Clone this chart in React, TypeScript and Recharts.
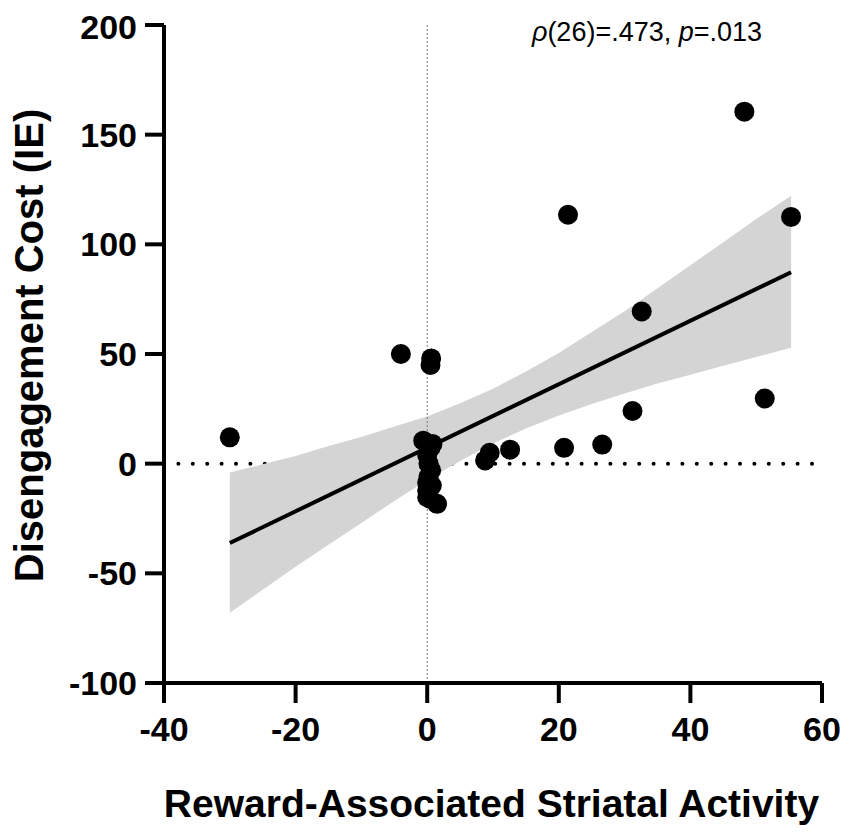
import { ComposedChart, Scatter, Line, Area, XAxis, YAxis, ReferenceLine } from 'recharts'

// striatal activity (x) and disengagement cost (y) for each participant
const activity = [
  -30, -4, 0.6, 0.5, -0.6, 0.5, 0.2, 0, 0, 0, 1.5, 0.8, 0, 0.6, 0.2, 0.7, 0.4,
  8.8, 9.5, 12.6, 21.4, 20.8, 26.6, 31.2, 32.6, 48.2, 51.3, 55.3,
]
const cost = [
  12, 50, 48, 45, 10.5, 7.3, 0, -8.7, -12.4, -15.3, -18.3, 9, 4, -3, -6, -10, -16,
  1.5, 5, 6.4, 113.5, 7.2, 8.7, 24, 69.4, 160.5, 29.7, 112.5,
]

// regression line end points
const fitX = [-30, 55.3]
const fitY = [-36.2, 87.3]

// 95% confidence band
const bandX = [-30, -25, -20, -15, -10, -5, 0, 5, 10, 15, 20, 25, 30, 35, 40, 45, 50, 55.3]
const bandLow = [-68, -57.5, -47, -37, -27, -17, -7.5, 1.2, 9.2, 16, 22, 27.2, 32, 36.5, 40.5, 44.7, 48.6, 52.8]
const bandHigh = [-4, -0.3, 3.5, 8, 12.2, 16.9, 21.5, 27.6, 34.2, 42, 50.5, 60, 69.5, 80, 90.5, 101, 111.5, 122.2]

// dotted zero line across the plot
const zeroX = [-40, 60]
const zeroY = [0, 0]

const xTicks = [-40, -20, 0, 20, 40, 60]
const yTicks = [-100, -50, 0, 50, 100, 150, 200]

const points = activity.map((x, i) => ({ x, y: cost[i] }))
const fit = fitX.map((x, i) => ({ x, y: fitY[i] }))
const band = bandX.map((x, i) => ({ x, band: [bandLow[i], bandHigh[i]] }))
const zero = zeroX.map((x, i) => ({ x, y: zeroY[i] }))

const font = '"Liberation Sans", Arial, sans-serif'
const tickStyle = { fontSize: 34, fontWeight: 'bold', fill: '#000', fontFamily: font }

const Dot = (props: any) => <circle cx={props.cx} cy={props.cy} r={10} fill="#000" />

export default function App() {
  return (
    <ComposedChart width={835} height={824} margin={{ top: 17, right: 21, bottom: 0, left: 0 }}>
      <XAxis
        type="number"
        dataKey="x"
        domain={[-40, 60]}
        ticks={xTicks}
        height={149}
        axisLine={{ stroke: '#000', strokeWidth: 4 }}
        tickLine={{ stroke: '#000', strokeWidth: 4 }}
        tickSize={20}
        tickMargin={14}
        tick={tickStyle}
        allowDataOverflow
      />
      <YAxis
        type="number"
        dataKey="y"
        domain={[-100, 200]}
        ticks={yTicks}
        width={156}
        axisLine={{ stroke: '#000', strokeWidth: 4 }}
        tickLine={{ stroke: '#000', strokeWidth: 4 }}
        tickSize={19}
        tickMargin={8}
        tick={tickStyle}
        allowDataOverflow
      />
      {/* zero line drawn as an unfilled area so the band covers it */}
      <Area
        data={zero}
        dataKey="y"
        type="linear"
        fill="none"
        stroke="#000"
        strokeWidth={4}
        strokeDasharray="0 14.4"
        strokeLinecap="round"
        dot={false}
        activeDot={false}
        isAnimationActive={false}
      />
      <Area
        data={band}
        dataKey="band"
        type="linear"
        fill="#d4d4d4"
        fillOpacity={1}
        stroke="none"
        isAnimationActive={false}
      />
      <ReferenceLine x={0} stroke="#777" strokeWidth={1} strokeDasharray="2 2" />
      <Line data={fit} dataKey="y" type="linear" stroke="#000" strokeWidth={4} dot={false} isAnimationActive={false} />
      <Scatter data={points} dataKey="y" shape={Dot} isAnimationActive={false} />
      <text x={483.5} y={809} textAnchor="middle" fontSize={39} fontWeight="bold" fontFamily={font} fill="#000">
        Reward-Associated Striatal Activity
      </text>
      <text
        x={34.7}
        y={337.5}
        transform="rotate(-90 34.7 337.5)"
        textAnchor="middle"
        fontSize={40}
        fontWeight="bold"
        fontFamily={font}
        fill="#000"
      >
        Disengagement Cost (IE)
      </text>
      <text x={639} y={33} textAnchor="middle" fontSize={27} fontFamily={font} fill="#000">
        <tspan fontStyle="italic">ρ</tspan>(26)=.473, <tspan fontStyle="italic">p</tspan>=.013
      </text>
    </ComposedChart>
  )
}
